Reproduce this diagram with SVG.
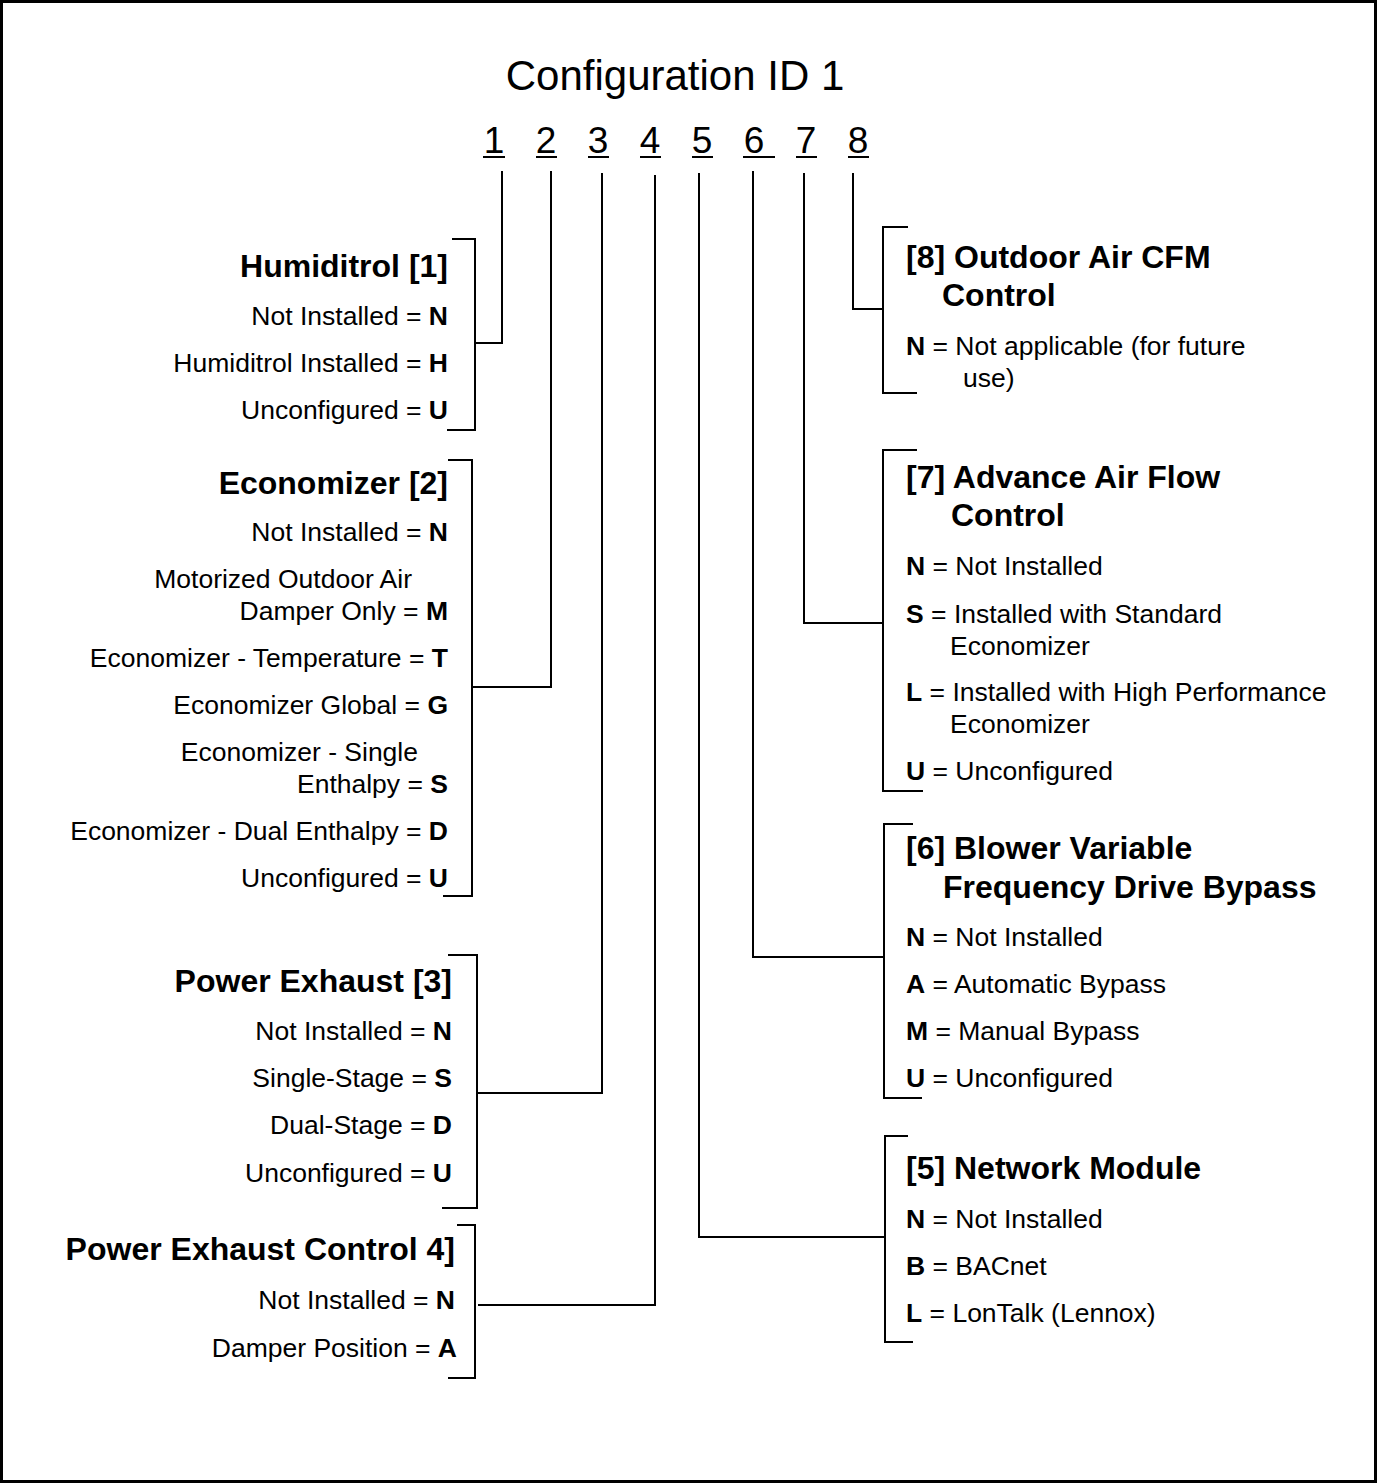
<svg xmlns="http://www.w3.org/2000/svg" width="1377" height="1484" viewBox="0 0 1377 1484">
<style>
text{font-family:"Liberation Sans",Arial,sans-serif;fill:#000}
.t{font-size:42px}
.d{font-size:37px;text-anchor:middle}
.h{font-size:32px;font-weight:bold}
.b{font-size:26.5px}
.e{text-anchor:end}
.k{font-weight:bold}
.ln{fill:none;stroke:#000;stroke-width:2}
</style>
<rect x="1.5" y="1.5" width="1374" height="1480" fill="#fff" stroke="#000" stroke-width="3"/>
<g id="title">
<text class="t" x="675" y="90" text-anchor="middle">Configuration ID 1</text>
</g>
<g id="digits">
<text class="d" x="494" y="153">1</text>
<text class="d" x="546" y="153">2</text>
<text class="d" x="598" y="153">3</text>
<text class="d" x="650" y="153">4</text>
<text class="d" x="702" y="153">5</text>
<text class="d" x="754" y="153">6</text>
<text class="d" x="806" y="153">7</text>
<text class="d" x="858" y="153">8</text>
<path class="ln" d="M483 157H505M536 157H557M588 157H609M640 157H661M692 157H713M743 157H775M796 157H817M848 157H869"/>
</g>
<g id="connectors">
<path class="ln" d="M502 171V343H475"/>
<path class="ln" d="M551 171V687H472"/>
<path class="ln" d="M602 173V1093H477"/>
<path class="ln" d="M655 175V1305H478"/>
<path class="ln" d="M699 173V1237H885"/>
<path class="ln" d="M753 171V957H884"/>
<path class="ln" d="M804 173V623H883"/>
<path class="ln" d="M853 173V309H883"/>
</g>
<g id="node1">
<path class="ln" d="M452 239H475V430H447"/>
<text class="h e" x="448" y="277">Humiditrol [1]</text>
<text class="b e" x="448" y="325">Not Installed = <tspan class="k">N</tspan></text>
<text class="b e" x="448" y="372">Humiditrol Installed = <tspan class="k">H</tspan></text>
<text class="b e" x="448" y="419">Unconfigured = <tspan class="k">U</tspan></text>
</g>
<g id="node2">
<path class="ln" d="M448 460H472V896H443"/>
<text class="h e" x="448" y="494">Economizer [2]</text>
<text class="b e" x="448" y="541">Not Installed = <tspan class="k">N</tspan></text>
<text class="b e" x="412" y="588">Motorized Outdoor Air</text>
<text class="b e" x="448" y="620">Damper Only = <tspan class="k">M</tspan></text>
<text class="b e" x="448" y="667">Economizer - Temperature = <tspan class="k">T</tspan></text>
<text class="b e" x="448" y="714">Economizer Global = <tspan class="k">G</tspan></text>
<text class="b e" x="418" y="761">Economizer - Single</text>
<text class="b e" x="448" y="793">Enthalpy = <tspan class="k">S</tspan></text>
<text class="b e" x="448" y="840">Economizer - Dual Enthalpy = <tspan class="k">D</tspan></text>
<text class="b e" x="448" y="887">Unconfigured = <tspan class="k">U</tspan></text>
</g>
<g id="node3">
<path class="ln" d="M448 955H477V1208H442"/>
<text class="h e" x="452" y="992">Power Exhaust [3]</text>
<text class="b e" x="452" y="1040">Not Installed = <tspan class="k">N</tspan></text>
<text class="b e" x="452" y="1087">Single-Stage = <tspan class="k">S</tspan></text>
<text class="b e" x="452" y="1134">Dual-Stage = <tspan class="k">D</tspan></text>
<text class="b e" x="452" y="1182">Unconfigured = <tspan class="k">U</tspan></text>
</g>
<g id="node4">
<path class="ln" d="M457 1225H475V1378H448"/>
<text class="h e" x="455" y="1260">Power Exhaust Control 4]</text>
<text class="b e" x="455" y="1309">Not Installed = <tspan class="k">N</tspan></text>
<text class="b e" x="457" y="1357">Damper Position = <tspan class="k">A</tspan></text>
</g>
<g id="node8">
<path class="ln" d="M908 227H883V393H917"/>
<text class="h" x="906" y="268">[8] Outdoor Air CFM</text>
<text class="h" x="942" y="306">Control</text>
<text class="b" x="906" y="355"><tspan class="k">N</tspan> = Not applicable (for future</text>
<text class="b" x="963" y="387">use)</text>
</g>
<g id="node7">
<path class="ln" d="M917 450H883V791H923"/>
<text class="h" x="906" y="488">[7] Advance Air Flow</text>
<text class="h" x="951" y="526">Control</text>
<text class="b" x="906" y="575"><tspan class="k">N</tspan> = Not Installed</text>
<text class="b" x="906" y="623"><tspan class="k">S</tspan> = Installed with Standard</text>
<text class="b" x="950" y="655">Economizer</text>
<text class="b" x="906" y="701"><tspan class="k">L</tspan> = Installed with High Performance</text>
<text class="b" x="950" y="733">Economizer</text>
<text class="b" x="906" y="780"><tspan class="k">U</tspan> = Unconfigured</text>
</g>
<g id="node6">
<path class="ln" d="M913 824H884V1098H922"/>
<text class="h" x="906" y="859">[6] Blower Variable</text>
<text class="h" x="943" y="898">Frequency Drive Bypass</text>
<text class="b" x="906" y="946"><tspan class="k">N</tspan> = Not Installed</text>
<text class="b" x="906" y="993"><tspan class="k">A</tspan> = Automatic Bypass</text>
<text class="b" x="906" y="1040"><tspan class="k">M</tspan> = Manual Bypass</text>
<text class="b" x="906" y="1087"><tspan class="k">U</tspan> = Unconfigured</text>
</g>
<g id="node5">
<path class="ln" d="M908 1136H885V1342H913"/>
<text class="h" x="906" y="1179">[5] Network Module</text>
<text class="b" x="906" y="1228"><tspan class="k">N</tspan> = Not Installed</text>
<text class="b" x="906" y="1275"><tspan class="k">B</tspan> = BACnet</text>
<text class="b" x="906" y="1322"><tspan class="k">L</tspan> = LonTalk (Lennox)</text>
</g>
</svg>
